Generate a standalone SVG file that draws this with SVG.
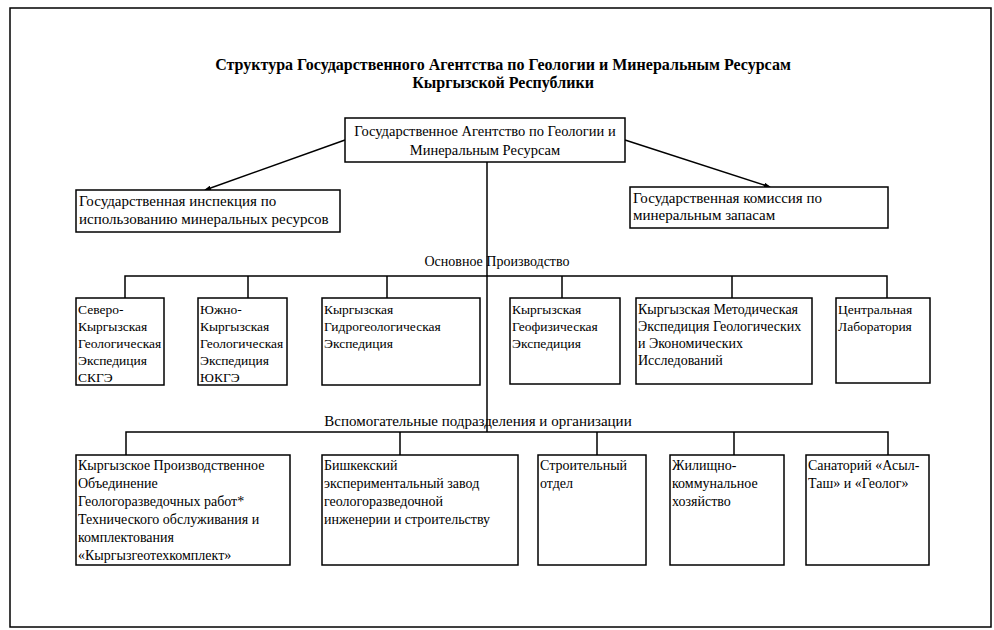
<svg xmlns="http://www.w3.org/2000/svg" width="994" height="630" viewBox="0 0 994 630">
<defs>
<style>
.t{font-family:"Liberation Serif","Times New Roman",serif;font-size:13.5px;fill:#000}
.u{font-size:15px}
.m{font-size:14px}
.b{fill:#fff;stroke:#000;stroke-width:1.5}
.c{fill:none;stroke:#000;stroke-width:1.5}
.h{font-family:"Liberation Serif","Times New Roman",serif;font-size:16px;font-weight:bold;fill:#000}
</style>
<marker id="ah" markerWidth="7" markerHeight="5" refX="6" refY="2.5" orient="auto" markerUnits="userSpaceOnUse"><path d="M0,0 L7,2.5 L0,5 Z" fill="#000"/></marker>
</defs>
<rect x="0" y="0" width="994" height="630" fill="#fff"/>
<rect x="10" y="8" width="981" height="619" class="c"/>
<g id="title">
<text class="h" x="503" y="70" text-anchor="middle">Структура Государственного Агентства по Геологии и Минеральным Ресурсам</text>
<text class="h" x="503" y="88" text-anchor="middle">Кыргызской Республики</text>
</g>
<g id="connectors">
<path class="c" d="M345,140 L205,190" marker-end="url(#ah)"/>
<path class="c" d="M625,140 L770,187" marker-end="url(#ah)"/>
<path class="c" d="M487,162 V432"/>
<path class="c" d="M125,298 V276 H887 V298 M248,276 V298 M387,276 V298 M562,276 V298 M732,276 V298"/>
<path class="c" d="M126,455 V432 H888 V455 M400,432 V455 M597,432 V455 M734,432 V455"/>
</g>
<g id="n-agency">
<rect class="b" x="345" y="118" width="280" height="44"/>
<text class="t" x="485" y="136" text-anchor="middle" style="font-size:14.5px">Государственное Агентство по Геологии и</text>
<text class="t" x="485" y="155" text-anchor="middle" style="font-size:14.5px">Минеральным Ресурсам</text>
</g>
<g id="n-inspection">
<rect class="b" x="76" y="190" width="264" height="42"/>
<text class="t u" x="79" y="206">Государственная инспекция по</text>
<text class="t u" x="79" y="224">использованию минеральных ресурсов</text>
</g>
<g id="n-commission">
<rect class="b" x="630" y="187" width="258" height="41"/>
<text class="t u" x="633" y="203">Государственная комиссия по</text>
<text class="t u" x="633" y="220">минеральным запасам</text>
</g>
<g id="lbl-main">
<text class="t m" x="497" y="266" text-anchor="middle">Основное Производство</text>
</g>
<g id="n-skge">
<rect class="b" x="76" y="298" width="88" height="87"/>
<text class="t" x="78" y="314">Северо-</text>
<text class="t" x="78" y="331">Кыргызская</text>
<text class="t" x="78" y="348">Геологическая</text>
<text class="t" x="78" y="365">Экспедиция</text>
<text class="t" x="78" y="382">СКГЭ</text>
</g>
<g id="n-ukge">
<rect class="b" x="198" y="298" width="89" height="87"/>
<text class="t" x="200" y="314">Южно-</text>
<text class="t" x="200" y="331">Кыргызская</text>
<text class="t" x="200" y="348">Геологическая</text>
<text class="t" x="200" y="365">Экспедиция</text>
<text class="t" x="200" y="382">ЮКГЭ</text>
</g>
<g id="n-hydro">
<rect class="b" x="322" y="298" width="158" height="87"/>
<text class="t" x="324" y="314">Кыргызская</text>
<text class="t" x="324" y="331">Гидрогеологическая</text>
<text class="t" x="324" y="348">Экспедиция</text>
</g>
<g id="n-geophys">
<rect class="b" x="510" y="298" width="110" height="86"/>
<text class="t" x="512" y="314">Кыргызская</text>
<text class="t" x="512" y="331">Геофизическая</text>
<text class="t" x="512" y="348">Экспедиция</text>
</g>
<g id="n-method">
<rect class="b" x="636" y="298" width="176" height="86"/>
<text class="t m" x="638" y="314">Кыргызская Методическая</text>
<text class="t m" x="638" y="331">Экспедиция Геологических</text>
<text class="t m" x="638" y="348">и Экономических</text>
<text class="t m" x="638" y="365">Исследований</text>
</g>
<g id="n-lab">
<rect class="b" x="836" y="298" width="94" height="85"/>
<text class="t" x="838" y="314">Центральная</text>
<text class="t" x="838" y="331">Лаборатория</text>
</g>
<g id="lbl-aux">
<text class="t u" x="478" y="426" text-anchor="middle">Вспомогательные подразделения и организации</text>
</g>
<g id="n-kpo">
<rect class="b" x="76" y="455" width="214" height="110"/>
<text class="t m" x="78" y="470">Кыргызское Производственное</text>
<text class="t m" x="78" y="488">Объединение</text>
<text class="t m" x="78" y="506">Геологоразведочных работ*</text>
<text class="t m" x="78" y="524">Технического обслуживания и</text>
<text class="t m" x="78" y="542">комплектования</text>
<text class="t m" x="78" y="560">«Кыргызгеотехкомплект»</text>
</g>
<g id="n-bishkek">
<rect class="b" x="322" y="455" width="196" height="110"/>
<text class="t m" x="324" y="470">Бишкекский</text>
<text class="t m" x="324" y="488">экспериментальный завод</text>
<text class="t m" x="324" y="506">геологоразведочной</text>
<text class="t m" x="324" y="524">инженерии и строительству</text>
</g>
<g id="n-build">
<rect class="b" x="538" y="455" width="108" height="110"/>
<text class="t m" x="540" y="470">Строительный</text>
<text class="t m" x="540" y="488">отдел</text>
</g>
<g id="n-housing">
<rect class="b" x="670" y="455" width="114" height="110"/>
<text class="t m" x="672" y="470">Жилищно-</text>
<text class="t m" x="672" y="488">коммунальное</text>
<text class="t m" x="672" y="506">хозяйство</text>
</g>
<g id="n-sanatorium">
<rect class="b" x="806" y="455" width="123" height="110"/>
<text class="t m" x="808" y="470">Санаторий «Асыл-</text>
<text class="t m" x="808" y="488">Таш» и «Геолог»</text>
</g>
</svg>
